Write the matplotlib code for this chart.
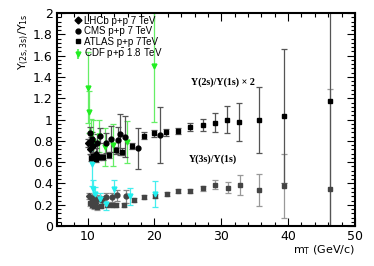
import matplotlib
matplotlib.use('Agg')
import matplotlib.pyplot as plt
from matplotlib.ticker import MultipleLocator, FormatStrFormatter

plt.rcParams['font.family'] = ['Liberation Sans', 'DejaVu Sans']
plt.rcParams['mathtext.fontset'] = 'custom'
plt.rcParams['mathtext.rm'] = 'DejaVu Sans'
plt.rcParams['mathtext.it'] = 'DejaVu Sans'

# ATLAS p+p 7 TeV : Y(2s)/Y(1s) x 2
atlas2_x = [10.3, 10.5, 10.8, 11.2, 11.7, 12.3, 13.2, 14.2, 15.2, 16.7, 18.4, 20.0, 21.7,
            23.5, 25.3, 27.2, 29.0, 30.9, 32.7, 35.7, 39.4, 46.2]
atlas2_y = [0.78, 0.64, 0.66, 0.63, 0.65, 0.65, 0.67, 0.71, 0.70, 0.75, 0.85, 0.87, 0.88,
            0.895, 0.93, 0.95, 0.97, 1.0, 0.98, 1.0, 1.035, 1.17]
atlas2_e = [0.04, 0.03, 0.03, 0.03, 0.03, 0.03, 0.03, 0.03, 0.03, 0.03, 0.03, 0.03, 0.03,
            0.03, 0.035, 0.06, 0.09, 0.13, 0.18, 0.31, 0.63, 1.2]

# ATLAS p+p 7 TeV : Y(3s)/Y(1s)
atlas3_x = [10.4, 10.7, 11.0, 11.4, 12.0, 12.9, 13.6, 14.2, 15.5, 16.9, 18.5, 20.1, 21.9,
            23.6, 25.3, 27.3, 29.1, 31.0, 32.8, 35.7, 39.4, 46.2]
atlas3_y = [0.22, 0.20, 0.19, 0.18, 0.19, 0.20, 0.20, 0.20, 0.20, 0.244, 0.27, 0.28, 0.30,
            0.33, 0.33, 0.354, 0.39, 0.36, 0.385, 0.34, 0.38, 0.35]
atlas3_e = [0.03, 0.03, 0.03, 0.03, 0.02, 0.02, 0.02, 0.02, 0.02, 0.02, 0.02, 0.02, 0.02,
            0.02, 0.02, 0.02, 0.04, 0.05, 0.09, 0.15, 0.30, 0.94]

# CMS p+p 7 TeV
cms2_x = [10.3, 10.6, 11.4, 11.8, 12.8, 13.5, 14.5, 14.8, 15.6, 17.5, 20.9]
cms2_y = [0.87, 0.82, 0.78, 0.85, 0.78, 0.82, 0.81, 0.86, 0.84, 0.73, 0.855]
cms2_e = [0.06, 0.06, 0.08, 0.07, 0.09, 0.12, 0.12, 0.19, 0.19, 0.19, 0.26]
cms3_x = [11.0, 11.6, 12.2, 12.8, 13.6, 14.4, 15.7]
cms3_y = [0.26, 0.25, 0.245, 0.27, 0.27, 0.29, 0.28]
cms3_e = [0.04, 0.04, 0.04, 0.04, 0.04, 0.05, 0.06]

# LHCb p+p 7 TeV
lhcb2_x = [10.1, 10.3, 10.5, 10.8, 11.2]
lhcb2_y = [0.78, 0.72, 0.80, 0.75, 0.68]
lhcb2_e = [0.04, 0.04, 0.04, 0.05, 0.05]
lhcb3_x = [10.2, 10.5, 10.8, 11.1]
lhcb3_y = [0.28, 0.26, 0.24, 0.22]
lhcb3_e = [0.03, 0.03, 0.03, 0.03]

# CDF p+pbar 1.8 TeV
cdf2_x = [10.1, 10.2, 10.5, 10.8, 11.7, 12.6, 13.8, 15.9, 20.0]
cdf2_y = [1.30, 1.07, 0.86, 0.80, 0.85, 0.74, 0.76, 0.79, 1.50]
cdf2_e = [0.33, 0.20, 0.15, 0.20, 0.15, 0.18, 0.20, 0.20, 0.52]
cdf3_x = [10.6, 10.8, 11.1, 11.9, 12.8, 13.9, 16.3, 20.1]
cdf3_y = [0.58, 0.35, 0.30, 0.25, 0.21, 0.35, 0.28, 0.30]
cdf3_e = [0.20, 0.08, 0.07, 0.06, 0.06, 0.08, 0.08, 0.12]

fig = plt.figure(figsize=(3.74, 2.66), dpi=100)
ax = fig.add_axes([0.152, 0.150, 0.797, 0.801])

kw = dict(linestyle='none', capsize=2, elinewidth=0.9, capthick=0.9)
ax.errorbar(atlas3_x, atlas3_y, yerr=atlas3_e, fmt='s', color='#444444', ecolor='#999999', ms=3.5, **kw)
ax.errorbar(cms3_x, cms3_y, yerr=cms3_e, fmt='o', color='#444444', ecolor='#888888', ms=3.5, **kw)
ax.errorbar(lhcb3_x, lhcb3_y, yerr=lhcb3_e, fmt='D', color='#444444', ecolor='#888888', ms=3, **kw)
ax.errorbar(cdf3_x, cdf3_y, yerr=cdf3_e, fmt='v', color='#22eeee', ecolor='#44eeee', ms=3.5, **kw)

ax.errorbar(cdf2_x, cdf2_y, yerr=cdf2_e, fmt='v', color='#22ee22', ecolor='#66ee66', ms=3.5, **kw)
ax.errorbar(atlas2_x, atlas2_y, yerr=atlas2_e, fmt='s', color='black', ecolor='#555555', ms=3.5, **kw)
ax.errorbar(cms2_x, cms2_y, yerr=cms2_e, fmt='o', color='black', ecolor='#555555', ms=3.5, **kw)
ax.errorbar(lhcb2_x, lhcb2_y, yerr=lhcb2_e, fmt='D', color='black', ecolor='#555555', ms=3, **kw)

h1, = ax.plot([], [], 'D', color='black', ms=3.5)
h2, = ax.plot([], [], 'o', color='black', ms=3.5)
h3, = ax.plot([], [], 's', color='black', ms=3.5)
h4 = ax.errorbar([], [], yerr=[], fmt='v', color='#22ee22', ecolor='#66ee66', ms=3.5, capsize=2)
ax.legend([h1, h2, h3, h4],
          ['LHCb p+p 7 TeV', 'CMS p+p 7 TeV', 'ATLAS p+p 7TeV', r'CDF p+$\bar{\mathrm{p}}$ 1.8 TeV'],
          loc='upper left', bbox_to_anchor=(0.04, 1.02), frameon=False, fontsize=7,
          handlelength=0.6, handletextpad=0.3, labelspacing=0.05, borderpad=0.2)

ax.text(30.3, 1.35, 'Υ(2s)/Υ(1s) × 2', family='Liberation Serif', weight='bold',
        fontsize=7.2, ha='center', va='center')
ax.text(28.8, 0.63, 'Υ(3s)/Υ(1s)', family='Liberation Serif', weight='bold',
        fontsize=7.2, ha='center', va='center')

ax.xaxis.set_major_locator(MultipleLocator(10))
ax.xaxis.set_minor_locator(MultipleLocator(2))
ax.yaxis.set_major_locator(MultipleLocator(0.2))
ax.yaxis.set_minor_locator(MultipleLocator(0.04))
ax.yaxis.set_major_formatter(FormatStrFormatter('%g'))
ax.set_xlim(5.4, 50)
ax.set_ylim(0, 2)
ax.tick_params(which='both', direction='in', top=True, right=True, width=0.8)
ax.tick_params(which='major', length=6, pad=3, labelsize=9)
ax.tick_params(which='minor', length=3)
for lab in ax.get_xticklabels() + ax.get_yticklabels():
    lab.set_fontfamily('DejaVu Sans')
for s in ax.spines.values():
    s.set_linewidth(1.5)

ax.set_ylabel(r'$\Upsilon_{(2s,3s)}/\Upsilon_{1s}$', loc='top', fontsize=8, labelpad=1)
ax.set_xlabel(r'm$_\mathrm{T}$ (GeV/c)', loc='right', fontsize=8, family='DejaVu Sans', labelpad=0)

fig.savefig('out.png', dpi=100)
